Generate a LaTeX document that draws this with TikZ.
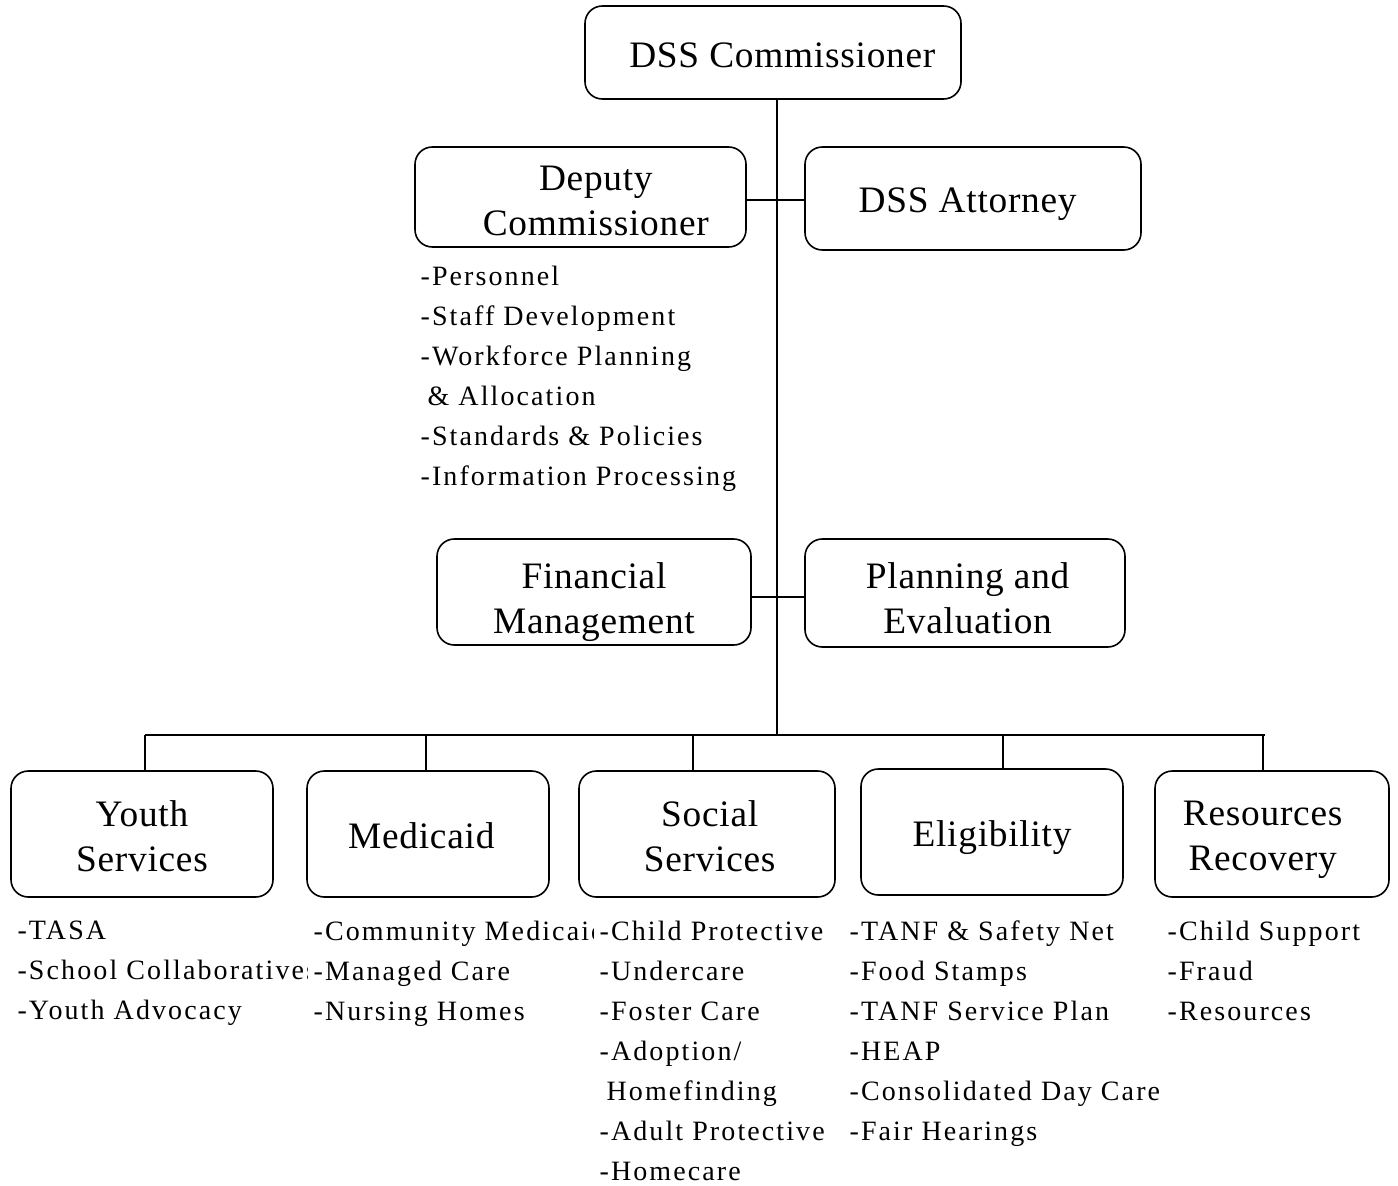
\documentclass[tikz,border=0pt]{standalone}
\usepackage{fontspec}
\setmainfont{Liberation Serif}
\newfontfamily\boxfont[LetterSpace=2]{Liberation Serif}
\newfontfamily\listfont[LetterSpace=7.5]{Liberation Serif}
\usetikzlibrary{positioning}

\begin{document}
\begin{tikzpicture}[x=0.75pt, y=-0.75pt,
  orgbox/.style  = {draw=black, line width=1.2pt, rounded corners=13pt,
                    fill=white, inner sep=0pt},
  boxtext/.style = {align=center, inner sep=0pt,
                    font=\boxfont\fontsize{28}{33.75}\selectfont},
  duties/.style  = {anchor=north west, align=left, fill=white,
                    inner xsep=4pt, inner ysep=2pt,
                    font=\listfont\fontsize{21}{30}\selectfont},
  link/.style    = {line width=1.2pt, black}
]
\useasboundingbox (0,0) rectangle (1398,1185);

% top of the chart
\node[orgbox, minimum width=282pt, minimum height=69.75pt,
  label={[boxtext, xshift=7pt, yshift=-2.25pt]center:DSS Commissioner}] (comm) at (773,52.5) {};
\node[orgbox, minimum width=248.25pt, minimum height=75pt,
  label={[boxtext, xshift=11.5pt, yshift=-3pt]center:Deputy\\Commissioner}] (deputy) at (580.5,197) {};
\node[orgbox, minimum width=252pt, minimum height=77.25pt,
  label={[boxtext, xshift=-4pt, yshift=-4.5pt]center:DSS Attorney}] (attorney) at (973,198.5) {};
\node[orgbox, minimum width=235.5pt, minimum height=79.5pt,
  label={[boxtext, yshift=-7.5pt]center:Financial\\Management}] (fin) at (594,592) {};
\node[orgbox, minimum width=240pt, minimum height=81pt,
  label={[boxtext, xshift=2pt, yshift=-4pt]center:Planning and\\Evaluation}] (plan) at (965,593) {};

\node[duties] (deputylist) at (415,263) {-Personnel\\-Staff Development\\-Workforce Planning\\\hspace*{0.25em}\& Allocation\\-Standards \& Policies\\-Information Processing};

% divisions
\node[orgbox, minimum width=196.5pt, minimum height=94.5pt,
  label={[boxtext, yshift=-1.5pt]center:Youth\\Services}] (youth) at (142,834) {};
\node[orgbox, minimum width=181.5pt, minimum height=94.5pt,
  label={[boxtext, xshift=-5pt, yshift=-1.5pt]center:Medicaid}] (medicaid) at (428,834) {};
\node[orgbox, minimum width=192pt, minimum height=94.5pt,
  label={[boxtext, xshift=2pt, yshift=-1.5pt]center:Social\\Services}] (social) at (707,834) {};
\node[orgbox, minimum width=196.5pt, minimum height=94.5pt,
  label={[boxtext, yshift=-4.5pt]center:Eligibility}] (elig) at (992,832) {};
\node[orgbox, minimum width=175.5pt, minimum height=94.5pt,
  label={[boxtext, xshift=-7pt, yshift=-4pt]center:Resources\\Recovery}] (recov) at (1272,834) {};

\node[duties] (youthlist) at (12,918) {-TASA\\-School Collaboratives\\-Youth Advocacy};
\node[duties] (medlist) at (308,918) {-Community Medicaid\\-Managed Care\\-Nursing Homes};
\node[duties] (soclist) at (594,918) {-Child Protective\\-Undercare\\-Foster Care\\-Adoption/\\\hspace*{0.25em}Homefinding\\-Adult Protective\\-Homecare};
\node[duties] (eliglist) at (844,918) {-TANF \& Safety Net\\-Food Stamps\\-TANF Service Plan\\-HEAP\\-Consolidated Day Care\\-Fair Hearings};
\node[duties] (recovlist) at (1162,918) {-Child Support\\-Fraud\\-Resources};

% connectors
\coordinate (trunk) at (777,735);
\draw[link] (comm.south -| trunk) -- (trunk);
\draw[link] ([yshift=-2.25pt]deputy.east) -- ([yshift=-2.25pt]deputy.east -| attorney.west);
\draw[link] ([yshift=-3.75pt]fin.east) -- ([yshift=-3.75pt]fin.east -| plan.west);
\coordinate (busL) at (145,735);
\coordinate (busR) at (1265,735);
\draw[link] (busL) -- (busR);
\foreach \n/\x in {youth/145, medicaid/426, social/693, elig/1003, recov/1263} {
  \coordinate (d\n) at (\x,735);
  \draw[link] (d\n) -- (d\n |- \n.north);
}
\end{tikzpicture}
\end{document}
